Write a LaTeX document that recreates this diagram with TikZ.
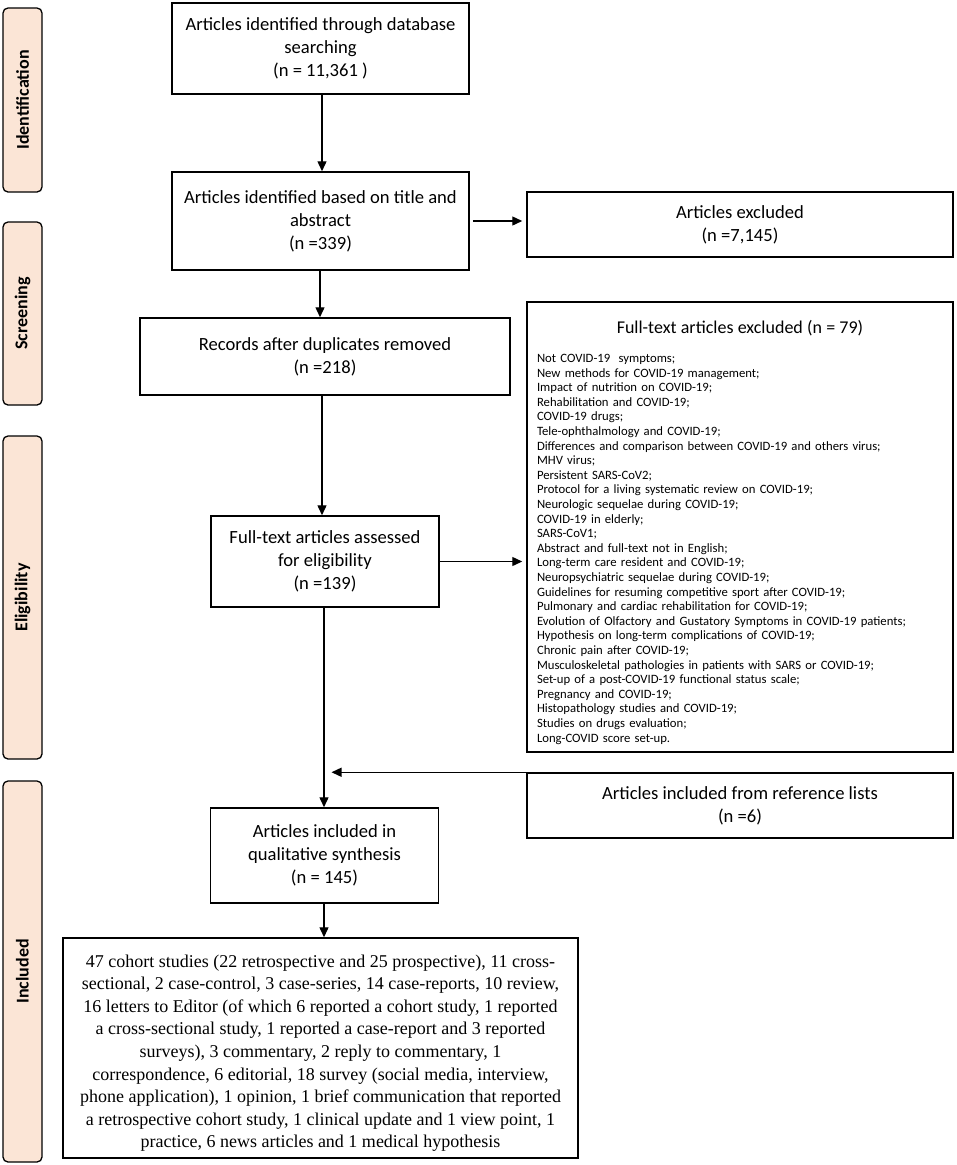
\documentclass[tikz,border=0pt]{standalone}
\usepackage{fontspec}
\setmainfont{Carlito}
\newfontfamily\timesf{Liberation Serif}
\usetikzlibrary{arrows.meta}
\definecolor{peach}{HTML}{FBE5D6}
\tikzset{
  side/.style={draw=black, line width=1.3pt, fill=peach, rounded corners=5pt, rotate=90,
    inner sep=0pt, font=\fontsize{18}{21}\selectfont\bfseries},
  box/.style={draw=black, line width=1.5pt, inner sep=0pt, align=center,
    font=\fontsize{18.6}{23}\selectfont},
  arr/.style={line width=1.4pt, -{Triangle[length=10pt,width=9pt]}}
}
\begin{document}
\begin{tikzpicture}[x=1pt,y=-1pt]
\useasboundingbox (0,0) rectangle (957,1165);
% side labels
\node[side, minimum width=184pt, minimum height=39pt] (sid) at (22.5,100) {Identification};
\node[side, minimum width=183pt, minimum height=39pt] (sscr) at (22.5,313.5) {Screening};
\node[side, minimum width=323pt, minimum height=39pt] (selig) at (22.5,597.5) {Eligibility};
\node[side, minimum width=381pt, minimum height=39pt] (sinc) at (22.5,971.5) {Included};
% main boxes
\node[box, minimum width=297pt, minimum height=91pt] (b1) at (320.5,48.5)
  {Articles identified through database\\searching\\(n = 11,361 )};
\node[box, minimum width=297pt, minimum height=98pt] (b2) at (320.5,221)
  {Articles identified based on title and\\abstract\\(n =339)};
\node[box, minimum width=426pt, minimum height=65pt] (excl) at (740,224.5)
  {Articles excluded\\(n =7,145)};
\node[box, minimum width=370pt, minimum height=77pt] (b3) at (325,356.5)
  {Records after duplicates removed\\(n =218)};
\node[box, minimum width=426pt, minimum height=450pt, text width=406pt, align=left,
  font=\fontsize{12.7}{14.6}\selectfont] (ftx) at (740,527)
  {\rule{0pt}{24pt}\makebox[\linewidth][c]{\fontsize{18}{20}\selectfont Full-text articles excluded (n = 79)}\\[14pt]
Not COVID-19\ \ symptoms;\\
New methods for COVID-19 management;\\
Impact of nutrition on COVID-19;\\
Rehabilitation and COVID-19;\\
COVID-19 drugs;\\
Tele-ophthalmology and COVID-19;\\
Differences and comparison between COVID-19 and others virus;\\
MHV virus;\\
Persistent SARS-CoV2;\\
Protocol for a living systematic review on COVID-19;\\
Neurologic sequelae during COVID-19;\\
COVID-19 in elderly;\\
SARS-CoV1;\\
Abstract and full-text not in English;\\
Long-term care resident and COVID-19;\\
Neuropsychiatric sequelae during COVID-19;\\
Guidelines for resuming competitive sport after COVID-19;\\
Pulmonary and cardiac rehabilitation for COVID-19;\\
Evolution of Olfactory and Gustatory Symptoms in COVID-19 patients;\\
Hypothesis on long-term complications of COVID-19;\\
Chronic pain after COVID-19;\\
Musculoskeletal pathologies in patients with SARS or COVID-19;\\
Set-up of a post-COVID-19 functional status scale;\\
Pregnancy and COVID-19;\\
Histopathology studies and COVID-19;\\
Studies on drugs evaluation;\\
Long-COVID score set-up.};
\node[box, minimum width=228pt, minimum height=91pt] (b4) at (325,561.5)
  {Full-text articles assessed\\for eligibility\\(n =139)};
\node[box, minimum width=228pt, minimum height=95pt] (b5) at (324.5,855.5)
  {Articles included in\\qualitative synthesis\\(n = 145)};
\node[box, minimum width=426pt, minimum height=65pt] (ref) at (740,805.5)
  {Articles included from reference lists\\(n =6)};
\node[box, minimum width=515pt, minimum height=220pt, font=\timesf\fontsize{18}{22.6}\selectfont] (b6) at (320.5,1048)
  {\rule{0pt}{23pt}47 cohort studies (22 retrospective and 25 prospective), 11 cross-\\
sectional, 2 case-control, 3 case-series, 14 case-reports, 10 review,\\
16 letters to Editor (of which 6 reported a cohort study, 1 reported\\
a cross-sectional study, 1 reported a case-report and 3 reported\\
surveys), 3 commentary, 2 reply to commentary, 1\\
correspondence, 6 editorial, 18 survey (social media, interview,\\
phone application), 1 opinion, 1 brief communication that reported\\
a retrospective cohort study, 1 clinical update and 1 view point, 1\\
practice, 6 news articles and 1 medical hypothesis};
% connectors
\draw[arr] (b1.south -| 322,0) -- (b2.north -| 322,0);
\draw[arr, shorten >=4pt, shorten <=3pt] (b2.east) -- (b2.east -| excl.west);
\draw[arr] (b2.south -| 320,0) -- (b3.north -| 320,0);
\draw[arr] (b3.south -| 322,0) -- (b4.north -| 322,0);
\draw[arr, shorten >=4pt] (b4.east) -- (b4.east -| ftx.west);
\draw[arr] (b4.south -| 324,0) -- (b5.north -| 324,0);
\draw[arr, shorten >=7pt] (ref.north west) -- (ref.north west -| b5.north);
\draw[arr] (b5.south -| 324,0) -- (b6.north -| 324,0);
\end{tikzpicture}
\end{document}
